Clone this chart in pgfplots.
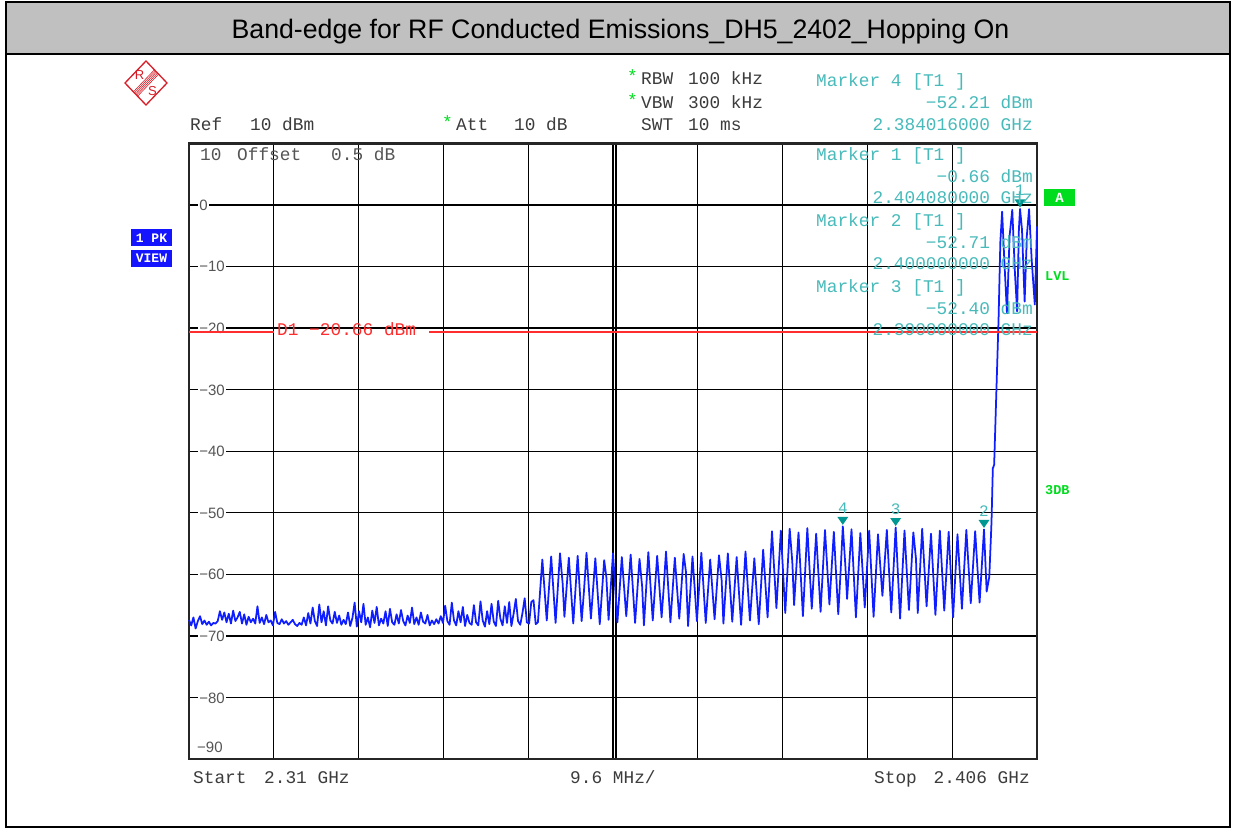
\documentclass[border=0pt]{standalone}
\usepackage{pgfplots}
\pgfplotsset{compat=1.18}
\usetikzlibrary{calc}
\usepackage{fontspec}
\setmainfont{Liberation Sans}
\setmonofont{Liberation Mono}
\definecolor{trace}{RGB}{15,30,255}
\definecolor{mk}{RGB}{72,186,186}
\definecolor{mktri}{RGB}{0,150,145}
\definecolor{grn}{RGB}{0,220,30}
\definecolor{dl}{RGB}{255,45,45}
\definecolor{hdr}{RGB}{60,60,60}
\definecolor{lab}{RGB}{85,85,85}
\definecolor{tbar}{RGB}{192,192,192}
\definecolor{rsred}{RGB}{215,30,40}
\definecolor{pkblue}{RGB}{20,20,255}
\newcommand\mono{\ttfamily\fontsize{17.8bp}{20bp}\selectfont}
\newcommand\labf{\fontsize{15bp}{17bp}\selectfont}
\newcommand\mkf{\ttfamily\fontsize{16bp}{18bp}\selectfont}
\pgfdeclareplotmark{dtri}{%
  \pgfpathmoveto{\pgfpoint{-5.5bp}{9.5bp}}%
  \pgfpathlineto{\pgfpoint{5.5bp}{9.5bp}}%
  \pgfpathlineto{\pgfpoint{0bp}{1.5bp}}%
  \pgfpathclose\pgfusepathqfill}
\begin{document}
\begin{tikzpicture}
\path[use as bounding box] (0,0) rectangle (1235bp,-828bp);
\begin{scope}[x=1bp,y=-1bp]
\fill[white] (0,0) rectangle (1235,828);
\draw[line width=2bp, fill=tbar] (6,2.5) rectangle (1230,53.5);
\draw[line width=2bp] (6,53.5) rectangle (1230,826.5);
\node[font=\fontsize{26.7bp}{30bp}\selectfont] at (620.5,31.5) {Band-edge for RF Conducted Emissions\_DH5\_2402\_Hopping On};
\end{scope}
\begin{axis}[
  at={(189bp,-759bp)}, anchor=south west,
  width=848bp, height=615.7bp, scale only axis,
  xmin=2310, xmax=2406, ymin=-90, ymax=10,
  xtick={2319.6,2329.2,2338.8,2348.4,2358,2358.34,2367.6,2377.2,2386.8,2396.4},
  ytick={0,-10,-20,-30,-40,-50,-60,-70,-80},
  xticklabels={}, yticklabels={},
  major tick length=0pt,
  grid=major,
  major grid style={black, line width=1.3bp},
  axis line style={black!85, line width=2.6bp},
  clip=false,
]
\addplot[trace, line width=1.75bp, line join=round] table[x=f,y=p] {
f p
2310.00 -67.4
2310.25 -68.3
2310.50 -67.0
2310.75 -68.8
2311.00 -67.6
2311.25 -66.8
2311.50 -68.1
2311.75 -67.5
2312.00 -68.2
2312.25 -67.7
2312.50 -68.3
2312.75 -67.9
2313.00 -68.0
2313.25 -67.6
2313.50 -66.0
2313.75 -67.4
2314.00 -66.2
2314.25 -67.8
2314.50 -66.4
2314.75 -68.0
2315.00 -65.9
2315.25 -67.6
2315.50 -67.0
2315.75 -66.1
2316.00 -68.0
2316.25 -66.5
2316.50 -68.2
2316.75 -66.9
2317.00 -67.8
2317.25 -67.2
2317.50 -68.0
2317.75 -65.2
2318.00 -67.9
2318.25 -67.0
2318.50 -68.1
2318.75 -66.6
2319.00 -67.8
2319.25 -67.5
2319.50 -68.3
2319.75 -66.1
2320.00 -67.9
2320.25 -68.1
2320.50 -67.3
2320.75 -68.0
2321.00 -67.6
2321.25 -68.2
2321.50 -67.8
2321.75 -67.4
2322.00 -68.1
2322.25 -68.4
2322.50 -67.9
2322.75 -68.2
2323.00 -67.0
2323.25 -68.3
2323.50 -66.3
2323.75 -68.0
2324.00 -65.4
2324.25 -67.6
2324.50 -68.4
2324.75 -64.9
2325.00 -67.8
2325.25 -66.0
2325.50 -68.3
2325.75 -65.2
2326.00 -67.5
2326.25 -68.0
2326.50 -66.1
2326.75 -67.9
2327.00 -66.7
2327.25 -68.2
2327.50 -67.4
2327.75 -68.1
2328.00 -66.2
2328.25 -68.4
2328.50 -67.1
2328.75 -64.6
2329.00 -68.5
2329.25 -66.0
2329.50 -67.8
2329.75 -64.8
2330.00 -68.2
2330.25 -67.0
2330.50 -68.6
2330.75 -65.9
2331.00 -67.9
2331.25 -65.3
2331.50 -68.3
2331.75 -67.2
2332.00 -68.0
2332.25 -66.0
2332.50 -68.4
2332.75 -65.6
2333.00 -67.8
2333.25 -68.2
2333.50 -66.5
2333.75 -68.0
2334.00 -65.8
2334.25 -67.6
2334.50 -68.3
2334.75 -66.7
2335.00 -67.9
2335.25 -65.4
2335.50 -68.1
2335.75 -67.0
2336.00 -68.2
2336.25 -66.2
2336.50 -67.7
2336.75 -68.0
2337.00 -66.6
2337.25 -68.3
2337.50 -67.5
2337.75 -68.1
2338.00 -67.3
2338.25 -68.0
2338.50 -66.8
2338.75 -67.9
2339.00 -65.1
2339.25 -67.6
2339.50 -68.2
2339.75 -64.6
2340.00 -67.5
2340.25 -68.3
2340.50 -66.0
2340.75 -67.8
2341.00 -65.3
2341.25 -68.4
2341.50 -66.6
2341.75 -67.9
2342.00 -68.2
2342.25 -65.0
2342.50 -67.8
2342.75 -68.3
2343.00 -64.4
2343.25 -67.5
2343.50 -68.5
2343.75 -66.0
2344.00 -68.1
2344.25 -64.8
2344.50 -67.7
2344.75 -68.4
2345.00 -64.3
2345.25 -67.2
2345.50 -68.3
2345.75 -65.2
2346.00 -67.9
2346.25 -64.5
2346.50 -68.4
2346.75 -66.4
2347.00 -64.0
2347.25 -67.6
2347.50 -68.2
2347.75 -66.3
2348.00 -63.9
2348.25 -67.8
2348.50 -68.0
2348.75 -64.5
2349.00 -64.2
2349.25 -68.1
2349.50 -67.8
2350.00 -57.6
2350.50 -67.5
2351.00 -57.1
2351.50 -67.9
2352.00 -56.6
2352.30 -61.5
2352.50 -66.9
2353.00 -57.3
2353.50 -68.0
2354.00 -57.0
2354.45 -67.6
2354.70 -63.0
2355.00 -56.5
2355.50 -67.2
2356.00 -57.4
2356.50 -68.1
2357.00 -57.7
2357.25 -60.5
2357.50 -67.4
2358.00 -56.6
2358.50 -67.8
2359.00 -57.2
2359.50 -66.8
2360.00 -56.8
2360.50 -67.9
2361.00 -57.5
2361.30 -62.0
2361.50 -68.3
2362.00 -56.4
2362.50 -67.5
2363.00 -57.0
2363.50 -67.0
2363.75 -62.0
2364.00 -56.3
2364.50 -67.8
2365.00 -57.3
2365.50 -67.2
2366.00 -56.7
2366.25 -59.5
2366.50 -68.4
2367.00 -57.1
2367.50 -67.6
2368.00 -56.5
2368.50 -67.9
2369.00 -57.6
2369.50 -67.3
2370.00 -56.9
2370.30 -61.0
2370.50 -68.0
2371.00 -56.6
2371.50 -67.7
2372.00 -57.2
2372.50 -68.2
2373.00 -56.3
2373.50 -67.5
2374.00 -57.4
2374.50 -68.1
2375.00 -56.0
2375.50 -67.0
2376.00 -53.0
2376.50 -65.5
2377.00 -52.9
2377.50 -66.3
2378.00 -52.6
2378.30 -58.0
2378.50 -65.0
2379.00 -53.2
2379.50 -66.8
2380.00 -52.5
2380.50 -65.6
2381.00 -53.4
2381.50 -66.1
2382.00 -52.8
2382.50 -64.9
2383.00 -53.1
2383.50 -66.5
2383.75 -60.0
2384.016 -52.21
2384.30 -58.5
2384.50 -64.0
2385.00 -52.7
2385.50 -67.0
2386.00 -53.3
2386.50 -65.4
2387.00 -52.9
2387.50 -66.9
2388.00 -53.5
2388.50 -63.5
2389.00 -52.8
2389.50 -66.2
2390.00 -52.40
2390.50 -67.2
2391.00 -52.9
2391.50 -65.8
2392.00 -53.2
2392.30 -57.5
2392.50 -66.3
2393.00 -52.6
2393.50 -65.2
2394.00 -53.4
2394.50 -66.6
2395.00 -52.9
2395.50 -65.9
2396.00 -53.1
2396.50 -67.0
2397.00 -53.5
2397.50 -65.6
2398.00 -52.8
2398.50 -64.7
2399.00 -53.0
2399.50 -64.6
2400.00 -52.71
2400.30 -62.8
2400.60 -60.4
2400.85 -51.5
2401.00 -42.8
2401.15 -42.2
2401.65 -18.5
2401.85 -6.0
2402.05 -1.1
2402.30 -9.0
2402.60 -17.6
2402.90 -5.0
2403.20 -0.8
2403.50 -11.0
2403.75 -17.3
2403.95 -4.0
2404.08 -0.66
2404.30 -4.0
2404.60 -15.7
2404.85 -5.0
2405.10 -0.7
2405.40 -9.0
2405.75 -16.2
2406.00 -3.5
};
\addplot[only marks, mark=dtri, mktri, point meta=explicit symbolic,
  nodes near coords, nodes near coords style={anchor=south, yshift=13bp, text=mk, font=\mkf, inner sep=0}]
  coordinates {(2384.016,-52.21)[4] (2390,-52.40)[3] (2400,-52.71)[2] (2404.08,-0.66)[1]};
\end{axis}
\begin{scope}[x=1bp,y=-1bp]
% y labels
\begin{scope}[every node/.style={anchor=west, fill=white, inner sep=1.2bp, text=lab, font=\labf}]
\node at (198,205.1) {0};
\node at (198,266.7) {−10};
\node at (198,328.3) {−20};
\node at (198,389.9) {−30};
\node at (198,451.5) {−40};
\node at (198,513.1) {−50};
\node at (198,574.7) {−60};
\node at (198,636.3) {−70};
\node at (198,697.9) {−80};
\end{scope}
\node[anchor=west, inner sep=0, text=lab, font=\labf] at (197,747.5) {−90};
% display line
\draw[dl, line width=1.5bp] (189,332.2) -- (274,332.2);
\draw[dl, line width=1.5bp] (429,332.2) -- (1037,332.2);
\begin{scope}[every node/.style={inner sep=0, font=\mono}]
\node[anchor=base west, text=dl] at (277,335) {D1 −20.66 dBm};
\node[anchor=base west, text=lab] at (200,160) {10};
\node[anchor=base west, text=lab] at (237,160) {Offset};
\node[anchor=base west, text=lab] at (331,160) {0.5 dB};
% header
\node[anchor=base west, text=hdr] at (190,130) {Ref};
\node[anchor=base west, text=hdr] at (250,130) {10 dBm};
\node[anchor=base west, text=grn] at (442,128) {*};
\node[anchor=base west, text=hdr] at (456,130) {Att};
\node[anchor=base west, text=hdr] at (514,130) {10 dB};
\node[anchor=base west, text=grn] at (627,82) {*};
\node[anchor=base west, text=hdr] at (641,84) {RBW};
\node[anchor=base west, text=hdr] at (688,84) {100 kHz};
\node[anchor=base west, text=grn] at (627,106) {*};
\node[anchor=base west, text=hdr] at (641,108) {VBW};
\node[anchor=base west, text=hdr] at (688,108) {300 kHz};
\node[anchor=base west, text=hdr] at (641,130) {SWT};
\node[anchor=base west, text=hdr] at (688,130) {10 ms};
% markers
\node[anchor=base west, text=mk] at (816,86) {Marker 4 [T1 ]};
\node[anchor=base east, text=mk] at (1033,108) {−52.21 dBm};
\node[anchor=base east, text=mk] at (1033,130) {2.384016000 GHz};
\node[anchor=base west, text=mk] at (816,160) {Marker 1 [T1 ]};
\node[anchor=base east, text=mk] at (1033,182) {−0.66 dBm};
\node[anchor=base east, text=mk] at (1033,203) {2.404080000 GHz};
\node[anchor=base west, text=mk] at (816,226) {Marker 2 [T1 ]};
\node[anchor=base east, text=mk] at (1033,248) {−52.71 dBm};
\node[anchor=base east, text=mk] at (1033,269) {2.400000000 GHz};
\node[anchor=base west, text=mk] at (816,292) {Marker 3 [T1 ]};
\node[anchor=base east, text=mk] at (1033,314) {−52.40 dBm};
\node[anchor=base east, text=mk] at (1033,335) {2.390000000 GHz};
% bottom
\node[anchor=base west, text=hdr] at (193,783) {Start};
\node[anchor=base west, text=hdr] at (264,783) {2.31 GHz};
\node[anchor=base west, text=hdr] at (570,783) {9.6 MHz/};
\node[anchor=base west, text=hdr] at (874,783) {Stop};
\node[anchor=base east, text=hdr] at (1030,783) {2.406 GHz};
\end{scope}
% side boxes
\fill[pkblue] (131,229) rectangle (172,246);
\fill[pkblue] (131,249.5) rectangle (172,266.5);
\node[text=white, font=\ttfamily\bfseries\fontsize{13bp}{15bp}\selectfont, inner sep=0] at (151.5,237.8) {1 PK};
\node[text=white, font=\ttfamily\bfseries\fontsize{13bp}{15bp}\selectfont, inner sep=0] at (151.5,258.3) {VIEW};
\fill[grn] (1044,189) rectangle (1075,206);
\node[text=white, font=\ttfamily\bfseries\fontsize{14bp}{16bp}\selectfont, inner sep=0] at (1059.5,197.8) {A};
\node[anchor=west, text=grn, font=\ttfamily\bfseries\fontsize{13.5bp}{15bp}\selectfont, inner sep=0] at (1045,276) {LVL};
\node[anchor=west, text=grn, font=\ttfamily\bfseries\fontsize{13.5bp}{15bp}\selectfont, inner sep=0] at (1045,490) {3DB};
% R&S logo
\draw[rsred, line width=1.3bp] (125,83) -- (146,61) -- (167,83) -- (146,105) -- cycle;
\foreach \o in {-3,-1.5,0,1.5,3}{
  \draw[rsred, line width=0.6bp] ($(135.5,94)+(\o*0.707,\o*0.707)$) -- ($(156.5,72)+(\o*0.707,\o*0.707)$);
}
\node[text=rsred, font=\fontsize{13bp}{15bp}\selectfont, inner sep=0] at (139.5,75) {R};
\node[text=rsred, font=\fontsize{13bp}{15bp}\selectfont, inner sep=0] at (152.5,91) {S};
\end{scope}
\end{tikzpicture}
\end{document}
